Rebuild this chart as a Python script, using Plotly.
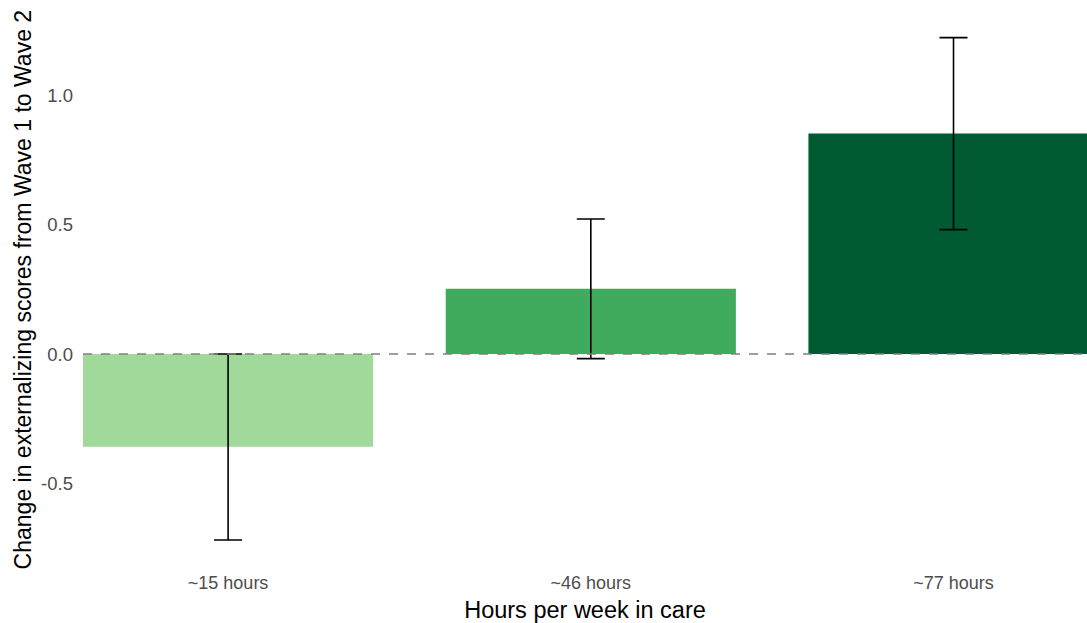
import plotly.graph_objects as go

categories = ["~15 hours", "~46 hours", "~77 hours"]
change = [-0.359, 0.253, 0.855]
ci_low = [-0.721, -0.018, 0.482]
ci_high = [0.0, 0.523, 1.226]
bar_colors = ["#a1d99b", "#41ab5d", "#005a32"]
y_tickvals = [-0.5, 0.0, 0.5, 1.0]
y_ticktext = ["-0.5", "0.0", "0.5", "1.0"]
y_title = "Change in externalizing scores from Wave 1 to Wave 2"
x_title = "Hours per week in care"

err_plus = [h - v for h, v in zip(ci_high, change)]
err_minus = [v - l for v, l in zip(change, ci_low)]

fig = go.Figure()
fig.add_trace(go.Bar(
    x=list(range(len(categories))),
    y=change,
    width=0.8,
    marker=dict(color=bar_colors, line=dict(width=0)),
    error_y=dict(type="data", symmetric=False, array=err_plus, arrayminus=err_minus,
                 color="black", thickness=1.6, width=14),
    showlegend=False,
))

fig.add_shape(type="line", xref="paper", yref="y", x0=0, x1=1, y0=0, y1=0,
              line=dict(color="#808080", width=1.6, dash="dash"), layer="above")

fig.add_annotation(text=y_title, textangle=-90, xref="paper", yref="paper",
                   x=-0.0598, y=0.485, xanchor="center", yanchor="middle",
                   showarrow=False, font=dict(size=23, color="black"))

fig.update_layout(
    width=1087, height=623,
    margin=dict(l=83, r=0, t=0, b=61),
    paper_bgcolor="white", plot_bgcolor="white",
    font=dict(family="Liberation Sans, Arial, sans-serif"),
    xaxis=dict(
        range=[-0.4, 2.368],
        tickmode="array", tickvals=list(range(len(categories))), ticktext=categories,
        showgrid=False, zeroline=False, showline=False, ticks="",
        tickfont=dict(size=18, color="#4d4d4d"),
        ticklabelstandoff=8,
        title=dict(text=x_title, font=dict(size=23.5, color="black"), standoff=11),
    ),
    yaxis=dict(
        range=[-0.806, 1.372],
        tickmode="array", tickvals=y_tickvals, ticktext=y_ticktext,
        showgrid=False, zeroline=False, showline=False, ticks="",
        tickfont=dict(size=18.5, color="#4d4d4d"),
        ticklabelstandoff=9,
    ),
)

fig.write_html("out.html", config={"displayModeBar": False},
               post_script="document.body.style.margin='0';document.body.style.overflow='hidden';")
